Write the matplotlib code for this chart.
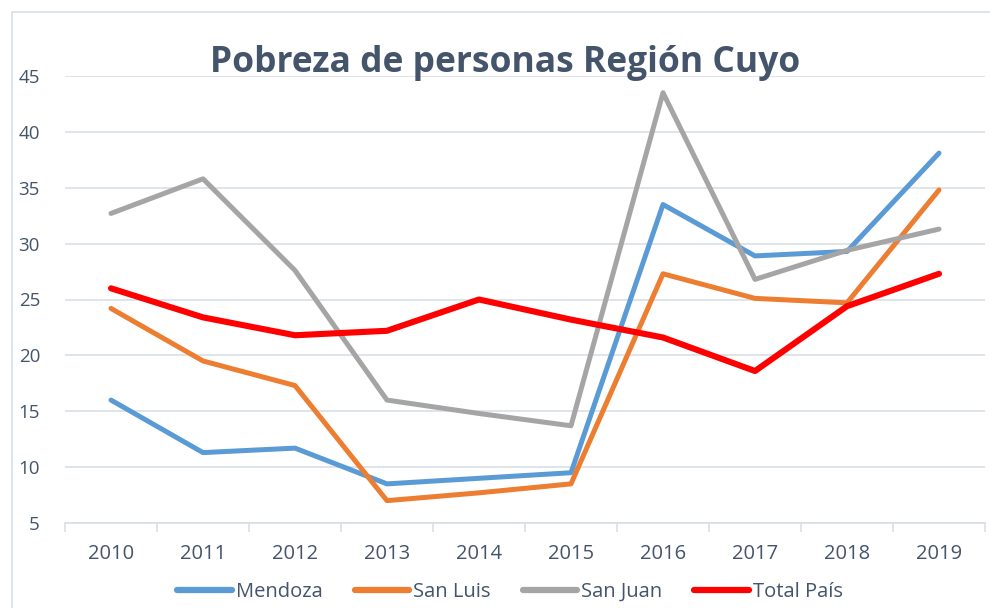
import matplotlib
matplotlib.use("Agg")
import matplotlib.pyplot as plt
from matplotlib.patches import Rectangle
from matplotlib.ticker import FixedLocator, NullFormatter

years = ["2010", "2011", "2012", "2013", "2014", "2015", "2016", "2017", "2018", "2019"]
mendoza = [16.0, 11.3, 11.7, 8.5, 9.0, 9.5, 33.5, 28.9, 29.3, 38.1]
san_luis = [24.2, 19.5, 17.3, 7.0, 7.7, 8.5, 27.3, 25.1, 24.7, 34.8]
san_juan = [32.7, 35.8, 27.6, 16.0, 14.8, 13.7, 43.5, 26.8, 29.4, 31.3]
total_pais = [26.0, 23.4, 21.8, 22.2, 25.0, 23.2, 21.6, 18.6, 24.4, 27.3]
yticks = [5, 10, 15, 20, 25, 30, 35, 40, 45]

plt.rcParams['font.family'] = ['Open Sans', 'DejaVu Sans']
txt = '#44546A'

fig = plt.figure(figsize=(9.9, 6.08), dpi=100)
fig.patches.append(Rectangle((12/990, -0.01), 1.0, 1 - 12/608 + 0.01, transform=fig.transFigure,
                             fill=False, edgecolor='#D9DEE6', linewidth=1.2))
ax = fig.add_axes([65/990, 85/608, 920/990, 447/608])

x = list(range(len(years)))
ax.plot(x, mendoza, color='#5B9BD5', lw=3.6, label='Mendoza', solid_capstyle='round', solid_joinstyle='round')
ax.plot(x, san_luis, color='#ED7D31', lw=3.6, label='San Luis', solid_capstyle='round', solid_joinstyle='round')
ax.plot(x, san_juan, color='#A5A5A5', lw=3.6, label='San Juan', solid_capstyle='round', solid_joinstyle='round')
ax.plot(x, total_pais, color='#FF0000', lw=4.4, label='Total País', solid_capstyle='round', solid_joinstyle='round')

ax.set_xlim(-0.5, len(years) - 0.5)
ax.set_ylim(5, 45)
ax.set_yticks(yticks)
ax.tick_params(axis='y', length=0, labelsize=13.5, labelcolor=txt, pad=18)
ax.yaxis.grid(True, color='#D9DEE6', lw=1.2)
ax.set_axisbelow(True)

ax.xaxis.set_major_locator(FixedLocator([i - 0.5 for i in range(len(years) + 1)]))
ax.xaxis.set_major_formatter(NullFormatter())
ax.xaxis.set_minor_locator(FixedLocator(x))
ax.set_xticklabels(years, minor=True)
ax.tick_params(axis='x', which='major', length=6.5, color='#D9DEE6', width=1.2)
ax.tick_params(axis='x', which='minor', length=0, labelsize=14.5, labelcolor=txt, pad=15)

for s in ['top', 'right', 'left']:
    ax.spines[s].set_visible(False)
ax.spines['bottom'].set_color('#D9DEE6')
ax.spines['bottom'].set_linewidth(1.2)

fig.text(505/990, 1 - 72/608, 'Pobreza de personas Región Cuyo', ha='center', va='baseline',
         fontsize=25.5, fontweight='bold', color=txt)

leg = fig.legend(loc='center', bbox_to_anchor=(510/990, 1 - 592/608), ncol=4, frameon=False,
                 fontsize=14.5, handlelength=2.7, columnspacing=1.6, handletextpad=0.2)
for line in leg.get_lines():
    line.set_linewidth(4.5)
for t in leg.get_texts():
    t.set_color(txt)

fig.savefig('out.png', dpi=100)
